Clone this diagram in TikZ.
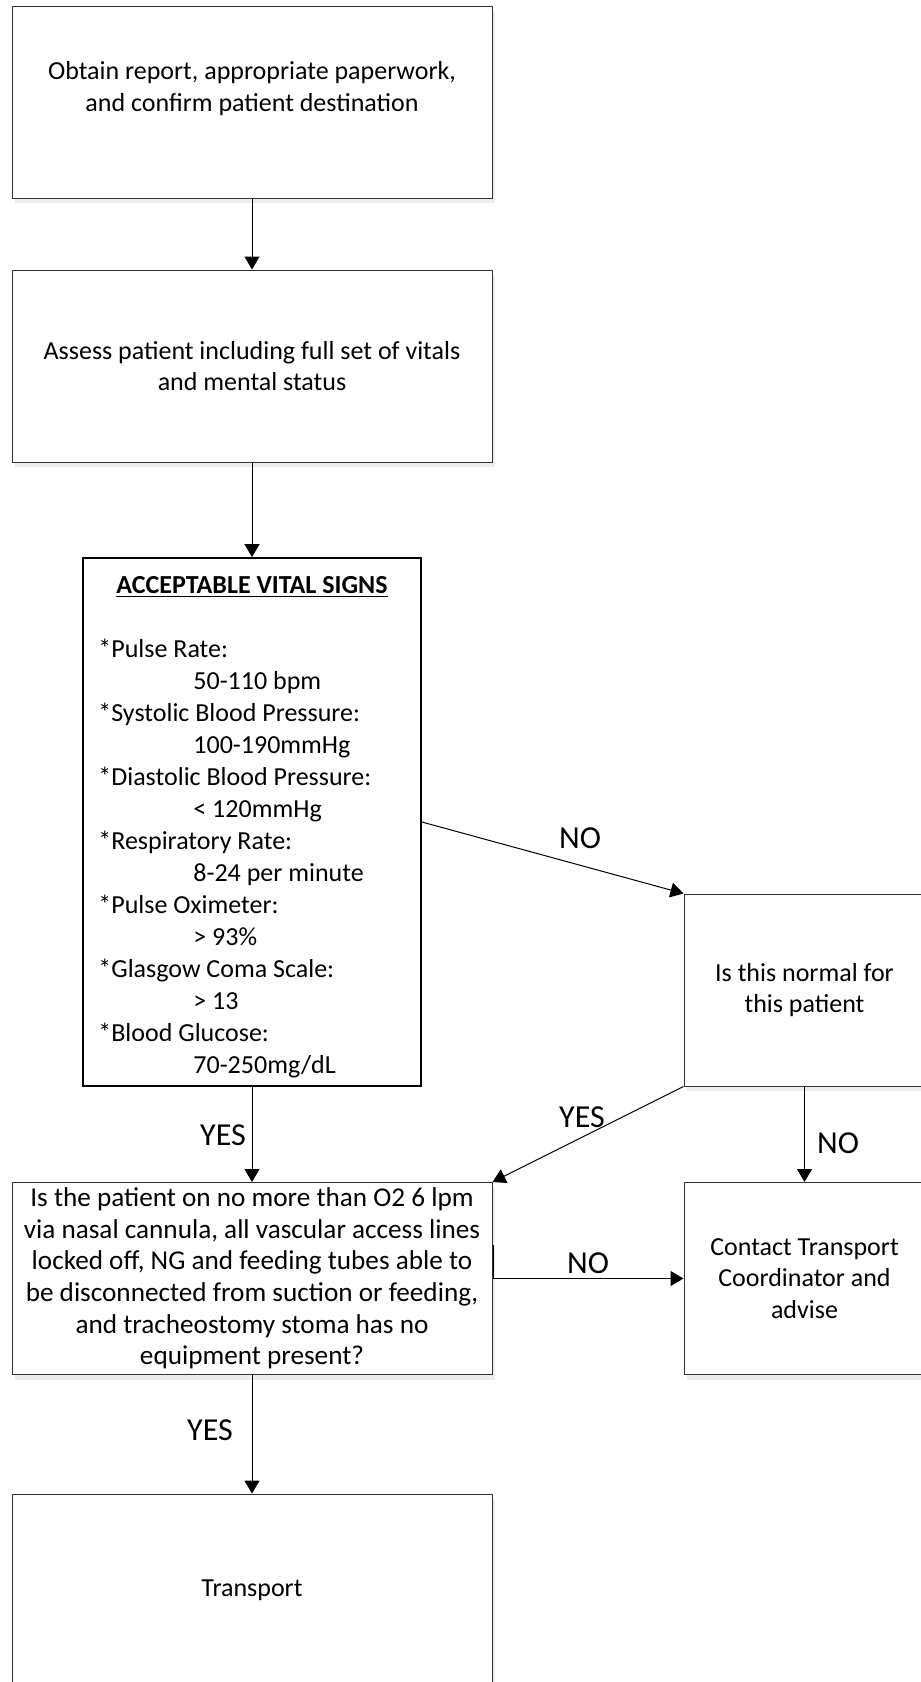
\documentclass[tikz,border=0pt]{standalone}
\usepackage{fontspec}
\setmainfont{Carlito}
\usetikzlibrary{arrows.meta, shadows}

\tikzset{
  box/.style={draw=black!80, line width=0.5pt, fill=white, align=center, inner sep=0pt,
    minimum width=240pt, minimum height=96pt, font=\fontsize{13}{15.8}\selectfont,
    drop shadow={shadow xshift=1.5pt, shadow yshift=-2.5pt, fill=black!7, opacity=1}},
  vitalbox/.style={draw=black, line width=0.9pt, fill=white, minimum width=169pt,
    minimum height=264pt, inner sep=0pt},
  arr/.style={-{Triangle[width=7.5pt,length=6.5pt]}, line width=0.5pt},
  lbl/.style={font=\fontsize{16}{19}\selectfont, inner sep=0pt},
  vtxt/.style={font=\fontsize{13}{16}\selectfont, inner sep=0pt}
}

\begin{document}
\begin{tikzpicture}[x=0.5pt, y=-0.5pt]
\useasboundingbox (0,0) rectangle (921,1682);

% main column
\node[box] (obtain) at (252,102) {Obtain report, appropriate paperwork,\\ and confirm patient destination\\ \mbox{}};
\node[box] (assess) at (252,366) {Assess patient including full set of vitals\\ and mental status};
\node[vitalbox] (vital) at (252,822) {};
\node[box, font=\fontsize{13.6}{15.8}\selectfont] (cannula) at (252,1278.5) {Is the patient on no more than O2 6 lpm\\ via nasal cannula, all vascular access lines\\ locked off, NG and feeding tubes able to\\ be disconnected from suction or feeding,\\ and tracheostomy stoma has no\\ equipment present?};
\node[box] (transport) at (252,1590) {Transport};

% right column
\node[box, minimum width=120.5pt] (normal) at (804.5,990) {Is this normal for\\ this patient};
\node[box, minimum width=120.5pt] (contact) at (804.5,1278.5) {Contact Transport\\ Coordinator and\\ advise};

% vital signs list
\node[vtxt, anchor=base, font={\fontsize{13}{16}\selectfont\bfseries}] (vtitle) at (252,593) {\underline{ACCEPTABLE VITAL SIGNS}};
\foreach \sign/\range [count=\i from 0] in {Pulse Rate:/50-110 bpm, Systolic Blood Pressure:/100-190mmHg, Diastolic Blood Pressure:/< 120mmHg, Respiratory Rate:/8-24 per minute, Pulse Oximeter:/> 93\%, Glasgow Coma Scale:/> 13, Blood Glucose:/{70-250mg/dL}} {
  \node[vtxt, anchor=base west] (sign\i) at (98,657+64*\i) {*\sign};
  \node[vtxt, anchor=base west] (range\i) at (193,689+64*\i) {\range};
}

% connectors
\draw[arr] (obtain) -- (assess);
\draw[arr] (assess) -- (vital);
\draw[arr] (vital) -- (cannula);
\draw[arr] (cannula) -- (transport);
\draw[arr] (vital.east) -- (normal.north west);
\draw[arr] (normal.south west) -- (cannula.north east);
\draw[arr] (normal) -- (contact);
\coordinate (elbow) at (493,1245);
\draw[arr] (elbow) |- (contact.west);

% answers
\node[lbl] (no1) at (580,838) {NO};
\node[lbl] (yes1) at (223,1135) {YES};
\node[lbl] (yes2) at (582,1117) {YES};
\node[lbl] (no2) at (838,1143) {NO};
\node[lbl] (no3) at (588,1263) {NO};
\node[lbl] (yes3) at (210,1430) {YES};
\end{tikzpicture}
\end{document}
